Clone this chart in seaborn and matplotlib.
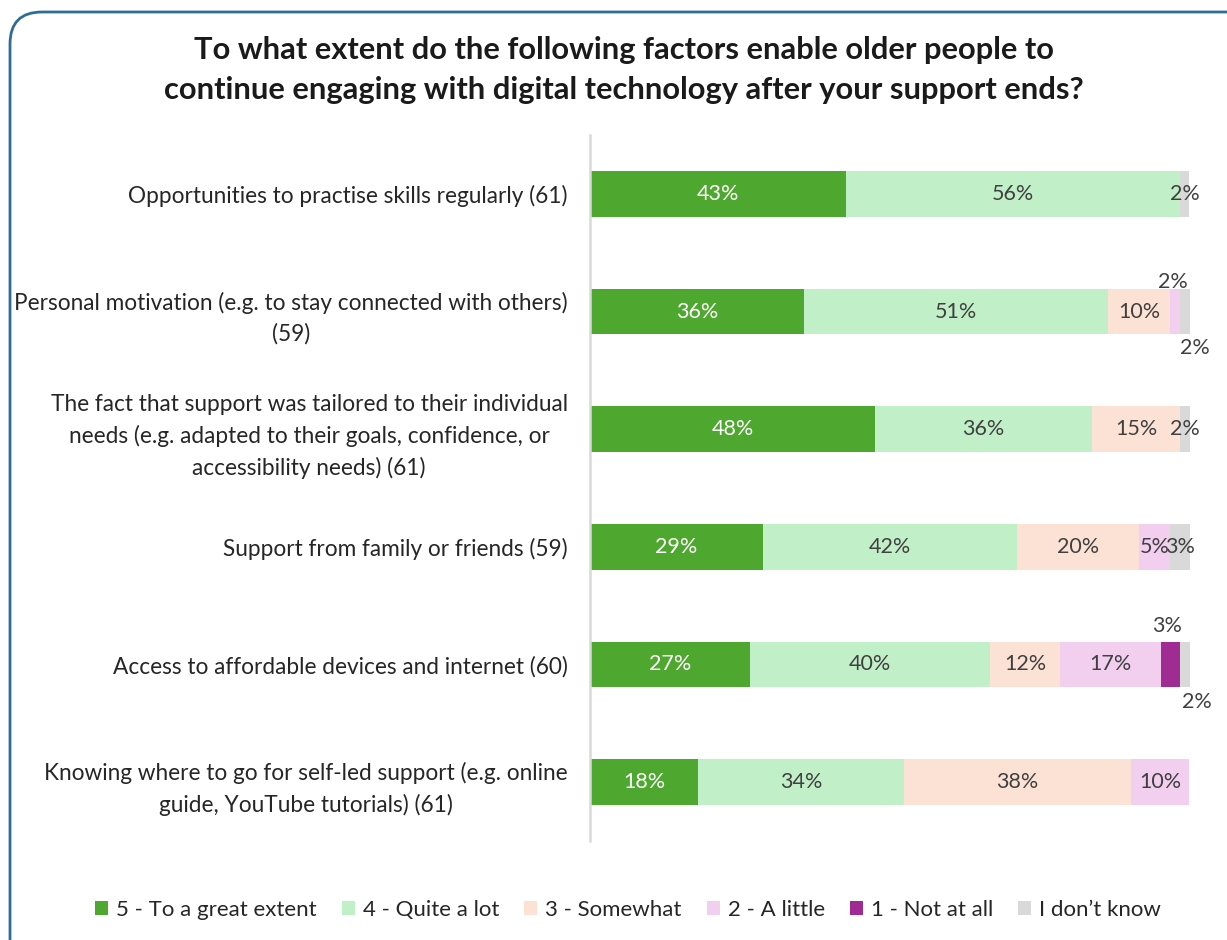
import numpy as np
import pandas as pd
import matplotlib
matplotlib.use("Agg")
import matplotlib.pyplot as plt
from matplotlib.patches import Patch, FancyBboxPatch
from matplotlib.transforms import IdentityTransform
import seaborn as sns

# Survey factors (number of respondents in brackets)
categories = [
    "Opportunities to practise skills regularly (61)",
    "Personal motivation (e.g. to stay connected with others)\n(59)",
    "The fact that support was tailored to their individual\nneeds (e.g. adapted to their goals, confidence, or\naccessibility needs) (61)",
    "Support from family or friends (59)",
    "Access to affordable devices and internet (60)",
    "Knowing where to go for self-led support (e.g. online\nguide, YouTube tutorials) (61)",
]

# Share of respondents per answer (%)
great_extent = [42.6, 35.6, 47.5, 28.8, 26.7, 18.0]
quite_a_lot = [55.7, 50.8, 36.1, 42.4, 40.0, 34.4]
somewhat = [0.0, 10.2, 14.8, 20.3, 11.7, 37.7]
a_little = [0.0, 1.7, 0.0, 5.1, 16.7, 9.8]
not_at_all = [0.0, 0.0, 0.0, 0.0, 3.3, 0.0]
dont_know = [1.6, 1.7, 1.6, 3.4, 1.7, 0.0]

series_names = [
    "5 - To a great extent",
    "4 - Quite a lot",
    "3 - Somewhat",
    "2 - A little",
    "1 - Not at all",
    "I don\u2019t know",
]
series_values = [great_extent, quite_a_lot, somewhat, a_little, not_at_all, dont_know]
series_colors = ["#4EA72E", "#C1F0C8", "#FBE2D5", "#F2CEEF", "#A02B93", "#D9D9D9"]

title = ("To what extent do the following factors enable older people to\n"
         "continue engaging with digital technology after your support ends?")

sns.set_theme(style="white")
plt.rcParams["font.family"] = ["Lato", "DejaVu Sans"]

W, H = 1227, 940
fig = plt.figure(figsize=(W / 100, H / 100), dpi=100)
ax = fig.add_axes([590 / W, 1 - 841 / H, 600 / W, (841 - 135) / H])

text_dark = "#404040"

# Labels that sit outside their (narrow) segment: offset in pixels
label_offsets = {
    (1, 3): (-2, 30),
    (1, 5): (10, -36),
    (4, 4): (-3, 39),
    (4, 5): (11, -38),
}

left = np.zeros(len(categories))
for s, (name, vals, color) in enumerate(zip(series_names, series_values, series_colors)):
    vals = np.asarray(vals, dtype=float)
    df = pd.DataFrame({"factor": categories, "pct": vals})
    sns.barplot(data=df, x="pct", y="factor", order=categories, orient="h",
                color=color, saturation=1, errorbar=None, width=0.39,
                left=left.copy(), linewidth=0, ax=ax)
    for i, v in enumerate(vals):
        if v <= 0:
            continue
        cx = left[i] + v / 2
        dx, dy = label_offsets.get((i, s), (0, 0))
        ax.annotate(f"{v:.0f}%", xy=(cx, i), xytext=(dx * 0.72, dy * 0.72),
                    textcoords="offset points", ha="center", va="center",
                    fontsize=15.5,
                    color="white" if s == 0 else text_dark)
    left += vals

ax.set_xlim(0, 100)
ax.set_ylim(len(categories) - 0.5, -0.5)
ax.set_xlabel("")
ax.set_ylabel("")
ax.set_xticks([])
for side in ["top", "right", "bottom"]:
    ax.spines[side].set_visible(False)
ax.spines["left"].set_color("#D9D9D9")
ax.spines["left"].set_linewidth(1.8)
ax.tick_params(axis="y", length=0, pad=16, labelsize=16.3, labelcolor="#262626")
for lbl in ax.get_yticklabels():
    lbl.set_multialignment("center")
    lbl.set_linespacing(1.55)

fig.text(624 / W, 1 - 70 / H, title, ha="center", va="center", fontsize=22.2,
         fontweight="bold", color="#1a1a1a", linespacing=1.5)

handles = [Patch(facecolor=c, edgecolor="none") for c in series_colors]
fig.legend(handles, series_names, loc="center", bbox_to_anchor=(628 / W, 1 - 910 / H),
           ncol=6, frameon=False, fontsize=16, handlelength=0.6, handleheight=0.6,
           handletextpad=0.35, columnspacing=1.12, labelcolor="#262626")

# Rounded outer frame
frame = FancyBboxPatch((10, -40), 1260, H - 12 + 40, boxstyle="round,pad=0,rounding_size=32",
                       transform=IdentityTransform(), facecolor="none",
                       edgecolor="#2E6E96", linewidth=2.0)
fig.add_artist(frame)

fig.savefig("out.png", dpi=100)
